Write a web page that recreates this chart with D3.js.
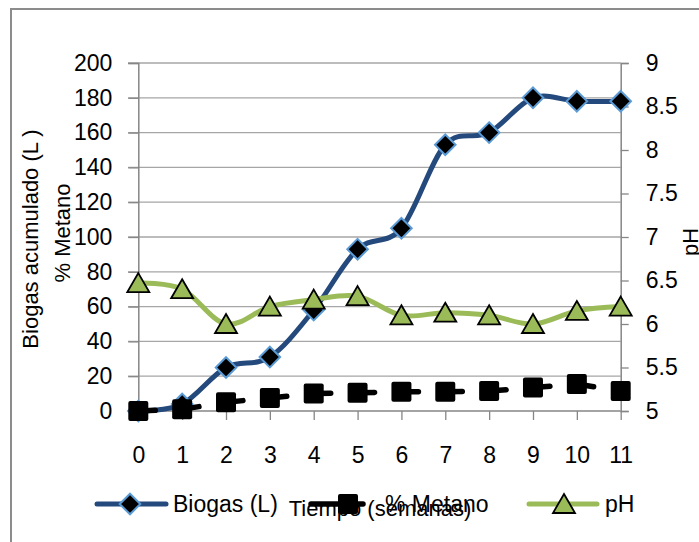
<!DOCTYPE html>
<html>
<head>
<meta charset="utf-8">
<script src="https://cdn.jsdelivr.net/npm/d3@7"></script>
<style>
html,body{margin:0;padding:0;background:#fff;}
svg{display:block;font-family:"Liberation Sans",Arial,sans-serif;}
</style>
</head>
<body>
<script>
const semanas = [0,1,2,3,4,5,6,7,8,9,10,11];
const biogas = [0,4,25,31,58,93,105,153,160,180,178,178];
const metano = [0,1,5,7.5,10,10.5,11,11,11.5,13.5,15.5,11.5];
const pH = [6.47,6.4,6.0,6.2,6.28,6.32,6.1,6.13,6.1,6.0,6.15,6.2];
const leftTicks = [0,20,40,60,80,100,120,140,160,180,200];
const rightTicks = [5,5.5,6,6.5,7,7.5,8,8.5,9];

const W = 699, H = 542;
const svg = d3.select("body").append("svg").attr("width", W).attr("height", H);

const x = d3.scalePoint().domain(semanas).range([138.3, 620.7]);
const yL = d3.scaleLinear().domain([0,200]).range([411, 63]);
const yR = d3.scaleLinear().domain([5,9]).range([411, 63]);

const gridCol = "#a6a6a6", axCol = "#868686";

// outer frame
svg.append("rect").attr("x", 11).attr("y", 9).attr("width", 720).attr("height", 560)
  .attr("fill", "none").attr("stroke", "#8c8c8c").attr("stroke-width", 2);

// gridlines
svg.append("g").selectAll("line").data(leftTicks.filter(d => d > 0)).join("line")
  .attr("x1", 128).attr("x2", x(11)).attr("y1", d => yL(d)).attr("y2", d => yL(d))
  .attr("stroke", gridCol).attr("stroke-width", 1.3);

// left axis
const gL = svg.append("g").attr("transform", `translate(${x(0)},0)`)
  .call(d3.axisLeft(yL).tickValues(leftTicks).tickSize(10).tickPadding(16));
// right axis
const gR = svg.append("g").attr("transform", `translate(${x(11)},0)`)
  .call(d3.axisRight(yR).tickValues(rightTicks).tickSize(8).tickPadding(17).tickFormat(d => String(d)));
// bottom axis
const gB = svg.append("g").attr("transform", `translate(0,${yL(0)})`)
  .call(d3.axisBottom(x).tickSize(9).tickPadding(27));

[gL, gR, gB].forEach(g => {
  g.select(".domain").attr("stroke", axCol).attr("stroke-width", 1.5);
  g.selectAll(".tick line").attr("stroke", axCol).attr("stroke-width", 1.3);
  g.selectAll(".tick text").attr("fill", "#000").attr("font-size", 23)
    .attr("font-family", "'Liberation Sans', Arial, sans-serif");
});
gB.select(".domain").remove();
svg.append("line").attr("x1", 128).attr("x2", x(11)).attr("y1", yL(0)).attr("y2", yL(0))
  .attr("stroke", axCol).attr("stroke-width", 1.5);

// axis titles
svg.append("text").attr("transform", `translate(38,239) rotate(-90)`)
  .attr("text-anchor", "middle").attr("font-size", 22).text("Biogas acumulado (L )");
svg.append("text").attr("transform", `translate(70,233) rotate(-90)`)
  .attr("text-anchor", "middle").attr("font-size", 22).text("% Metano");
svg.append("text").attr("transform", `translate(698,242) rotate(-90)`)
  .attr("text-anchor", "middle").attr("font-size", 22).text("pH");

const curve = d3.curveCardinal.tension(0);
const blue = "#24497c", blueLight = "#5b9bd5", green = "#9bbb59";

function diamond(g, cx, cy) {
  g.append("path").attr("d", d3.symbol(d3.symbolDiamond2, 270)())
    .attr("transform", `translate(${cx},${cy})`)
    .attr("fill", "#000").attr("stroke", blueLight).attr("stroke-width", 2);
}
function square(g, cx, cy) {
  g.append("rect").attr("x", cx - 10).attr("y", cy - 10).attr("width", 20).attr("height", 20)
    .attr("rx", 2).attr("fill", "#000");
}
function triangle(g, cx, cy) {
  g.append("path").attr("d", `M${cx},${cy-10}L${cx+11},${cy+9}L${cx-11},${cy+9}Z`)
    .attr("fill", green).attr("stroke", "#000").attr("stroke-width", 1.8).attr("stroke-linejoin", "miter");
}

// Biogas
const gBio = svg.append("g");
gBio.append("path").datum(semanas)
  .attr("d", d3.line().x(d => x(d)).y((d, i) => yL(biogas[i])).curve(curve))
  .attr("fill", "none").attr("stroke", blue).attr("stroke-width", 5).attr("stroke-linecap", "round");
semanas.forEach((d, i) => diamond(gBio, x(d), yL(biogas[i])));

// Metano
const gMet = svg.append("g");
d3.pairs(semanas.map((d, i) => [x(d), yL(metano[i])])).forEach(([a, b]) => {
  gMet.append("line").attr("x1", a[0]).attr("y1", a[1]).attr("x2", b[0]).attr("y2", b[1])
    .attr("stroke", "#000").attr("stroke-width", 5.5).attr("stroke-linecap", "round")
    .attr("stroke-dasharray", "17,200");
});
semanas.forEach((d, i) => square(gMet, x(d), yL(metano[i])));

// pH
const gPh = svg.append("g");
gPh.append("path").datum(semanas)
  .attr("d", d3.line().x(d => x(d)).y((d, i) => yR(pH[i])).curve(curve))
  .attr("fill", "none").attr("stroke", green).attr("stroke-width", 5).attr("stroke-linecap", "round");
semanas.forEach((d, i) => triangle(gPh, x(d), yR(pH[i])));

// x axis title
svg.append("text").attr("x", 380).attr("y", 516).attr("text-anchor", "middle")
  .attr("font-size", 22).text("Tiempo (semanas)");

// legend
const lg = svg.append("g");
const ly = 504;
lg.append("line").attr("x1", 97).attr("x2", 166).attr("y1", ly).attr("y2", ly)
  .attr("stroke", blue).attr("stroke-width", 5).attr("stroke-linecap", "round");
diamond(lg, 130, ly);
lg.append("text").attr("x", 173).attr("y", 512).attr("font-size", 23).text("Biogas (L)");

lg.append("line").attr("x1", 311).attr("x2", 363).attr("y1", ly).attr("y2", ly)
  .attr("stroke", "#000").attr("stroke-width", 5.5).attr("stroke-linecap", "round");
square(lg, 348, ly);
lg.append("text").attr("x", 385).attr("y", 512).attr("font-size", 23).text("% Metano");

lg.append("line").attr("x1", 529).attr("x2", 597).attr("y1", ly).attr("y2", ly)
  .attr("stroke", green).attr("stroke-width", 5).attr("stroke-linecap", "round");
triangle(lg, 564, ly);
lg.append("text").attr("x", 605).attr("y", 512).attr("font-size", 23).text("pH");
</script>
</body>
</html>
